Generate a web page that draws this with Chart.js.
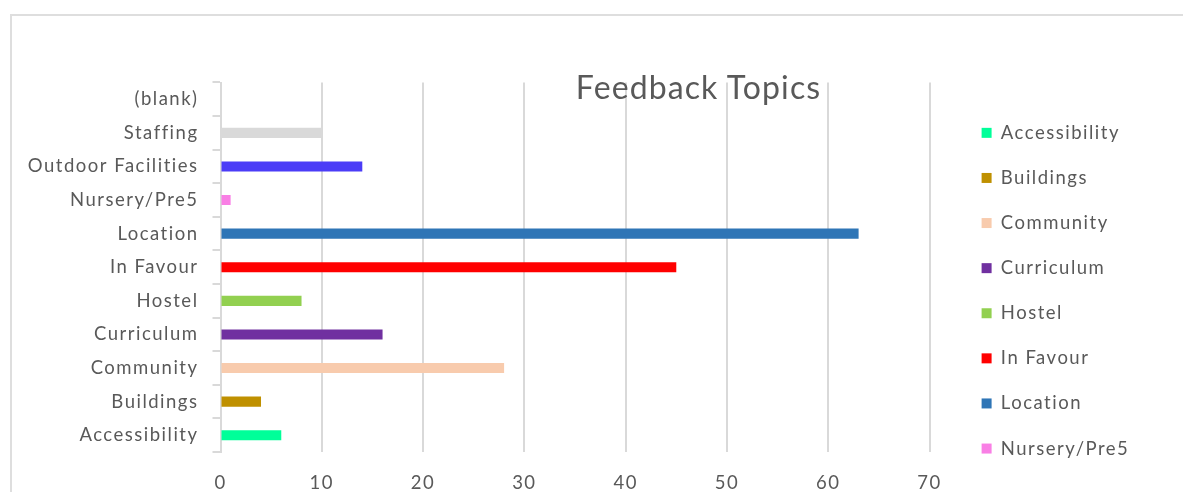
<!DOCTYPE html>
<html>
<head>
<meta charset="utf-8">
<script src="https://cdn.jsdelivr.net/npm/chart.js@4.4.1/dist/chart.umd.min.js"></script>
<style>
  html, body { margin: 0; padding: 0; background: #fff; overflow: hidden; width: 1183px; height: 492px; }
  #frame { position: absolute; left: 10px; top: 14px; width: 1400px; height: 700px; border: 2px solid #dedede; box-sizing: border-box; }
  #wrap { position: absolute; left: 12px; top: 16px; width: 1171px; height: 476px; }
  #title { position: absolute; left: 698px; top: 71px; transform: translateX(-50%); padding-left: 1.1px; font-family: Lato, sans-serif; font-size: 32px; line-height: 32px; letter-spacing: 1.1px; color: #595959; white-space: nowrap; pointer-events: none; }
</style>
</head>
<body>
<div id="frame"></div>
<div id="wrap"><canvas id="c"></canvas></div>
<div id="title">Feedback Topics</div>
<script>
// ---- data ----
const categories = ['Accessibility', 'Buildings', 'Community', 'Curriculum', 'Hostel', 'In Favour', 'Location', 'Nursery/Pre5', 'Outdoor Facilities', 'Staffing', '(blank)'];
const values = [6, 4, 28, 16, 8, 45, 63, 1, 14, 10, null];
const seriesColors = ['#00FF99', '#BF9000', '#F8CBAD', '#7030A0', '#92D050', '#FF0000', '#2E75B6', '#F97FE5', '#4B3CF7', '#D9D9D9', '#A5A5A5'];
const xMin = 0, xMax = 70, xStep = 10;
const legendVisibleCount = 8;

Chart.defaults.font.family = 'Lato, sans-serif';
Chart.defaults.color = '#595959';

const datasets = categories.map((name, i) => ({
  label: name,
  data: categories.map((c, j) => (j === i ? values[i] : null)),
  backgroundColor: seriesColors[i],
  borderWidth: 0,
  skipNull: true,
  barPercentage: 0.3,
  categoryPercentage: 1.0
}));

const TRACK = '1.5px';
const tracking = {
  id: 'tracking',
  beforeUpdate(chart) { chart.ctx.letterSpacing = TRACK; },
  beforeDraw(chart) { chart.ctx.letterSpacing = TRACK; }
};

const legendShift = {
  id: 'legendShift',
  afterLayout(chart) {
    const l = chart.legend;
    if (!l) return;
    l.left = 943; l.right = l.left + 260; l.width = 260;
    l.top = 81; l.bottom = l.top + 420; l.height = 420;
  }
};

new Chart(document.getElementById('c'), {
  type: 'bar',
  data: { labels: categories, datasets },
  plugins: [tracking, legendShift],
  options: {
    indexAxis: 'y',
    responsive: true,
    maintainAspectRatio: false,
    animation: false,
    layout: { padding: { top: 66.5, left: 0, bottom: 0, right: 103.5 } },
    plugins: {
      title: { display: false },
      tooltip: { enabled: false },
      legend: {
        position: 'right',
        align: 'start',
        maxWidth: 150,
        labels: {
          boxWidth: 10,
          boxHeight: 10,
          padding: 26.6,
          color: '#595959',
          font: { size: 18.5 },
          filter: (item) => item.datasetIndex < legendVisibleCount
        }
      }
    },
    scales: {
      x: {
        type: 'linear',
        min: xMin,
        max: xMax,
        ticks: { stepSize: xStep, padding: 19.5, color: '#595959', font: { size: 18.5 } },
        grid: { color: '#d9d9d9', lineWidth: 2, drawTicks: false },
        border: { display: false },
        afterFit(scale) { scale.height = 40; }
      },
      y: {
        reverse: true,
        ticks: { padding: 14, color: '#595959', font: { size: 18.5 } },
        grid: { drawOnChartArea: false, drawTicks: true, tickLength: 8, color: '#d9d9d9', lineWidth: 2, offset: true },
        border: { display: true, color: '#d9d9d9', width: 2 },
        afterFit(scale) { scale.width = 208.5; }
      }
    }
  }
});
</script>
</body>
</html>
